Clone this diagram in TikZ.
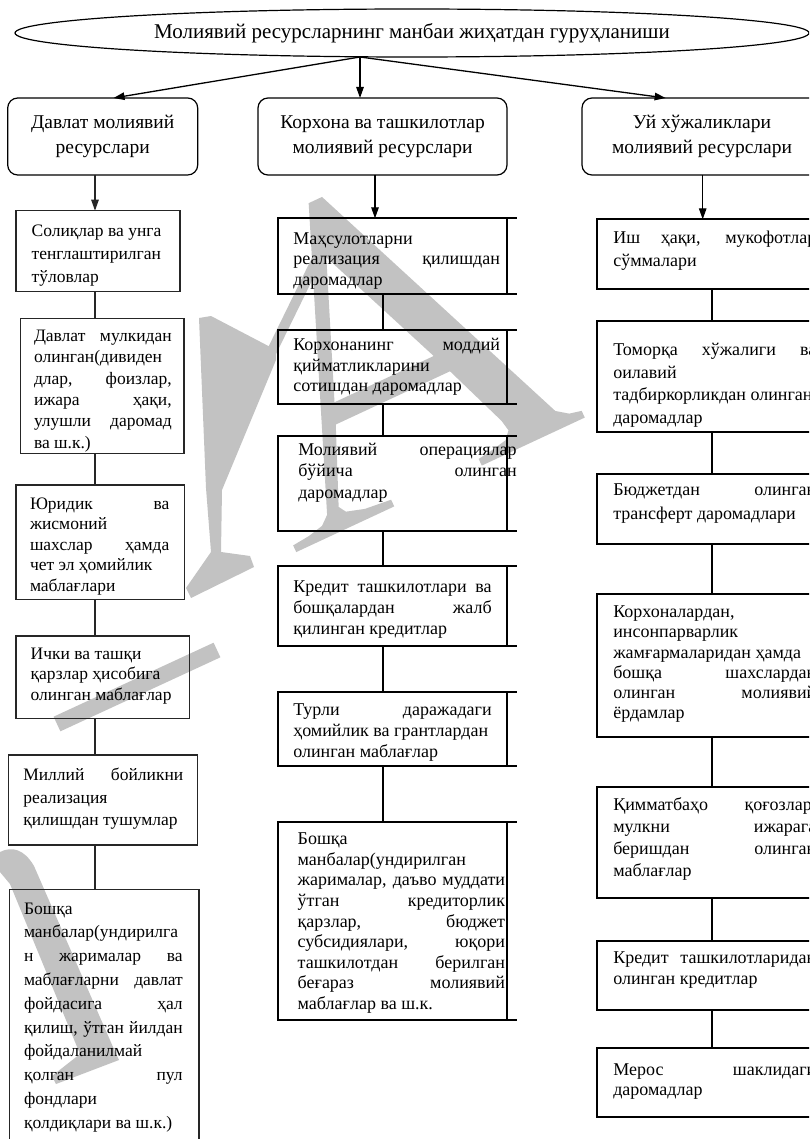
\documentclass[tikz,border=0pt]{standalone}
\usepackage{fontspec}
\setmainfont{Liberation Serif}
\usetikzlibrary{arrows.meta,shapes.geometric}
% one justified line, stretched to the full width of the text block
\newcommand\jl[1]{\makebox[\linewidth][s]{#1}}
% text block: width, font size, line spacing, lines
\newcommand\txtblk[4]{\parbox[t]{#1pt}{\fontsize{#2pt}{#3pt}\selectfont #4}}
\begin{document}
\begin{tikzpicture}[x=1pt,y=-1pt,
  lbox/.style={draw=black!85,line width=1.1pt,inner sep=0pt,outer sep=0pt,anchor=north west},
  mbox/.style={draw=black,line width=2pt,inner sep=0pt,outer sep=0pt,anchor=north west},
  rbox/.style={mbox,fill=white},
  topbox/.style={draw=black,fill=white,line width=1.2pt,rounded corners=10pt,inner sep=0pt,outer sep=0pt,
    anchor=north west,align=center,font=\fontsize{19.5pt}{25pt}\selectfont},
  txt/.style={anchor=base west,inner sep=0pt,outer sep=0pt},
  arr/.style={-{Triangle[length=11pt,width=7.5pt]},line width=1.3pt},
  llink/.style={draw=black!85,line width=1.1pt},
  mlink/.style={draw=black,line width=2pt},
  wmark/.style={fill=black!24,draw=none}]
\useasboundingbox (0,0) rectangle (809,1139);
\clip (0,0) rectangle (809,1139);
\fill[white] (0,0) rectangle (809,1139);

% ---- background watermark: large tilted serif letter shapes in light grey
\begin{scope}[shift={(290,555)},rotate=25,x=0.46pt,y=0.46pt]
  \fill[wmark,even odd rule]
    (15,0) -- (250,0) -- (250,16) -- (190,22) -- (150,34) -- (140,50) -- (210,215)
    -- (484,215) -- (540,70) -- (545,45) -- (530,28) -- (490,20) -- (460,16) -- (460,0)
    -- (707,0) -- (707,16) -- (680,22) -- (655,40) -- (392,676) -- (360,676)
    -- (110,45) -- (90,28) -- (55,20) -- (15,16) -- cycle
    (228,260) -- (466,260) -- (345,553) -- cycle;
\end{scope}
\fill[wmark] (340.5,222.2) -- (331.5,217.8) -- (265.5,352.8) -- (274.5,357.2) -- cycle;
\fill[wmark] (199,318) -- (211,316) -- (276,350) -- (276,360) -- (222,490)
  -- (221,552) -- (250,556) -- (254,567) -- (191,598) -- (186,588) -- (211,552)
  -- (206,488) -- cycle;
\fill[wmark] (53.6,716.7) -- (213.6,642.7) -- (220.4,657.3) -- (60.4,731.3) -- cycle;
\fill[wmark] (0,852) .. controls (12,846) and (24,849) .. (34,866) -- (113,1047)
  -- (119,1060) -- (56,1084) -- (52,1076) -- (80,1054) -- (10,884) -- (0,872) -- cycle;

% title ellipse
\node[draw=black,line width=1.2pt,ellipse,minimum width=794pt,minimum height=48pt,inner sep=0pt,
  font=\fontsize{21pt}{25pt}\selectfont] (title) at (412,33)
  {Молиявий ресурсларнинг манбаи жиҳатдан гуруҳланиши};
\coordinate (src) at (360,57);

% group heads
\node[topbox,minimum width=190pt,minimum height=77pt] (lt) at (7.7,98) {Давлат молиявий\\ресурслари};
\node[topbox,minimum width=249pt,minimum height=77pt] (mt) at (258,98) {Корхона ва ташкилотлар\\молиявий ресурслари};
\node[topbox,minimum width=240pt,minimum height=77pt] (rt) at (582,98) {Уй хўжаликлари\\молиявий ресурслари};

\draw[arr] (src) -- ([xshift=10.85pt]lt.north);
\draw[arr] (src) -- (mt.north -| src);
\draw[arr] (src) -- ([xshift=-36.4pt]rt.north);

% column axes
\coordinate (lx) at (95,0);
\coordinate (mxa) at (375,0);
\coordinate (mx) at (383.3,0);
\coordinate (rxa) at (702.7,0);
\coordinate (rx) at (711.7,0);

% ---- left column
\node[lbox,minimum width=164pt,minimum height=81pt] (l1) at (16,210.7) {};
\node[lbox,minimum width=163.3pt,minimum height=135pt] (l2) at (20.7,318.3) {};
\node[lbox,minimum width=168.3pt,minimum height=114.3pt] (l3) at (16,485) {};
\node[lbox,minimum width=173.3pt,minimum height=82.3pt] (l4) at (16,636) {};
\node[lbox,minimum width=189.4pt,minimum height=90pt] (l5) at (8.3,755) {};
\node[lbox,minimum width=189.7pt,minimum height=300pt] (l6) at (9.3,889.3) {};

\node[txt] (l1t) at (31.7,236.3) {\txtblk{145}{17.5}{23.3}{Солиқлар ва унга\\тенглаштирилган\\тўловлар}};
\node[txt] (l2t) at (34,341.2) {\txtblk{137.7}{17.5}{21.4}{\jl{Давлат мулкидан}\\олинган(дивиден\\\jl{длар, фоизлар,}\\\jl{ижара ҳақи,}\\\jl{улушли даромад}\\ва ш.к.)}};
\node[txt] (l3t) at (30,509.1) {\txtblk{139.3}{17.5}{20.6}{\jl{Юридик ва}\\жисмоний\\\jl{шахслар ҳамда}\\чет эл ҳомийлик\\маблағлари}};
\node[txt] (l4t) at (30.7,659.1) {\txtblk{150}{17.5}{20.8}{Ички ва ташқи\\қарзлар ҳисобига\\олинган маблағлар}};
\node[txt] (l5t) at (23.3,780.1) {\txtblk{160}{17.5}{22.9}{\jl{Миллий бойликни}\\реализация\\қилишдан тушумлар}};
\node[txt] (l6t) at (24,914.1) {\txtblk{158.7}{17.5}{23.8}{Бошқа\\манбалар(ундирилга\\\jl{н жарималар ва}\\\jl{маблағларни давлат}\\\jl{фойдасига ҳал}\\\jl{қилиш, ўтган йилдан}\\фойдаланилмай\\\jl{қолган пул}\\фондлари\\қолдиқлари ва ш.к.)}};

\draw[arr,llink] (lt.south -| lx) -- (l1.north -| lx);
\draw[llink] (l1.south -| lx) -- (l2.north -| lx);
\draw[llink] (l2.south -| lx) -- (l3.north -| lx);
\draw[llink] (l3.south -| lx) -- (l4.north -| lx);
\draw[llink] (l4.south -| lx) -- (l5.north -| lx);
\draw[llink] (l5.south -| lx) -- (l6.north -| lx);

% ---- middle column
\node[mbox,minimum width=228.4pt,minimum height=75.7pt] (m1) at (278.3,218.3) {};
\node[mbox,minimum width=228.4pt,minimum height=74pt] (m2) at (278.3,330) {};
\node[mbox,minimum width=228.4pt,minimum height=94.7pt] (m3) at (278.3,436) {};
\node[mbox,minimum width=228.4pt,minimum height=79.7pt] (m4) at (278.3,566) {};
\node[mbox,minimum width=228.4pt,minimum height=74.3pt] (m5) at (278.3,691.7) {};
\node[mbox,minimum width=228.4pt,minimum height=198.3pt] (m6) at (278.3,821.7) {};
\foreach \b in {m1,m2,m3,m4,m5,m6}{
  \draw[mlink] (\b.north east) -- ++(10,0);
  \draw[mlink] (\b.south east) -- ++(10,0);
}

\node[txt] (m1t) at (293.3,244.1) {\txtblk{206.7}{18}{20.8}{Маҳсулотларни\\\jl{реализация қилишдан}\\даромадлар}};
\node[txt] (m2t) at (293.3,350.8) {\txtblk{206.7}{18}{20.3}{\jl{Корхонанинг моддий}\\қийматликларини\\сотишдан даромадлар}};
\node[txt] (m3t) at (298.3,455.1) {\txtblk{218.4}{18}{21.5}{\jl{Молиявий операциялар}\\\jl{бўйича олинган}\\даромадлар}};
\node[txt] (m4t) at (293.3,592.4) {\txtblk{198.4}{18}{20.8}{\jl{Кредит ташкилотлари ва}\\\jl{бошқалардан жалб}\\қилинган кредитлар}};
\node[txt] (m5t) at (293.3,715.8) {\txtblk{198.4}{18}{20.8}{\jl{Турли даражадаги}\\ҳомийлик ва грантлардан\\олинган маблағлар}};
\node[txt] (m6t) at (297.7,844.6) {\txtblk{207.3}{18}{20.6}{Бошқа\\манбалар(ундирилган\\\jl{жарималар, даъво муддати}\\\jl{ўтган кредиторлик}\\\jl{қарзлар, бюджет}\\\jl{субсидиялари, юқори}\\\jl{ташкилотдан берилган}\\\jl{беғараз молиявий}\\маблағлар ва ш.к.}};

\draw[arr,mlink,line width=1.3pt] (mt.south -| mxa) -- (m1.north -| mxa);
\draw[mlink] (m1.south -| mx) -- (m2.north -| mx);
\draw[mlink] (m2.south -| mx) -- (m3.north -| mx);
\draw[mlink] (m3.south -| mx) -- (m4.north -| mx);
\draw[mlink] (m4.south -| mx) -- (m5.north -| mx);
\draw[mlink] (m5.south -| mx) -- (m6.north -| mx);

% ---- right column
\node[rbox,minimum width=228pt,minimum height=69.7pt] (r1) at (597.3,219.3) {};
\node[rbox,minimum width=228pt,minimum height=110.7pt] (r2) at (597.3,321) {};
\node[rbox,minimum width=228pt,minimum height=70pt] (r3) at (597.3,474.3) {};
\node[rbox,minimum width=228pt,minimum height=143.3pt] (r4) at (597.3,594) {};
\node[rbox,minimum width=228pt,minimum height=111pt] (r5) at (597.3,787.3) {};
\node[rbox,minimum width=228pt,minimum height=69.6pt] (r6) at (597.3,940.7) {};
\node[rbox,minimum width=228pt,minimum height=69pt] (r7) at (597.3,1048.3) {};

\node[txt] (r1t) at (613.3,243.9) {\txtblk{203}{18}{22.4}{\jl{Иш ҳақи, мукофотлар}\\сўммалари}};
\node[txt] (r2t) at (613.3,355.8) {\txtblk{203}{18}{22.5}{\jl{Томорқа хўжалиги ва}\\оилавий\\тадбиркорликдан олинган\\даромадлар}};
\node[txt] (r3t) at (613.3,495.8) {\txtblk{203}{18}{23.3}{\jl{Бюджетдан олинган}\\трансферт даромадлари}};
\node[txt] (r4t) at (613.3,617.4) {\txtblk{203}{18}{20.3}{Корхоналардан,\\инсонпарварлик\\жамғармаларидан ҳамда\\\jl{бошқа шахслардан}\\\jl{олинган молиявий}\\ёрдамлар}};
\node[txt] (r5t) at (613.3,810.8) {\txtblk{203}{18}{22}{\jl{Қимматбаҳо қоғозлар,}\\\jl{мулкни ижарага}\\\jl{беришдан олинган}\\маблағлар}};
\node[txt] (r6t) at (613.3,963.4) {\txtblk{203}{18}{20.7}{\jl{Кредит ташкилотларидан}\\олинган кредитлар}};
\node[txt] (r7t) at (613.3,1075.1) {\txtblk{203}{18}{20.7}{\jl{Мерос шаклидаги}\\даромадлар}};

\draw[arr,mlink,line width=1.3pt] (rt.south -| rxa) -- (r1.north -| rxa);
\draw[mlink] (r1.south -| rx) -- (r2.north -| rx);
\draw[mlink] (r2.south -| rx) -- (r3.north -| rx);
\draw[mlink] (r3.south -| rx) -- (r4.north -| rx);
\draw[mlink] (r4.south -| rx) -- (r5.north -| rx);
\draw[mlink] (r5.south -| rx) -- (r6.north -| rx);
\draw[mlink] (r6.south -| rx) -- (r7.north -| rx);
\end{tikzpicture}
\end{document}
